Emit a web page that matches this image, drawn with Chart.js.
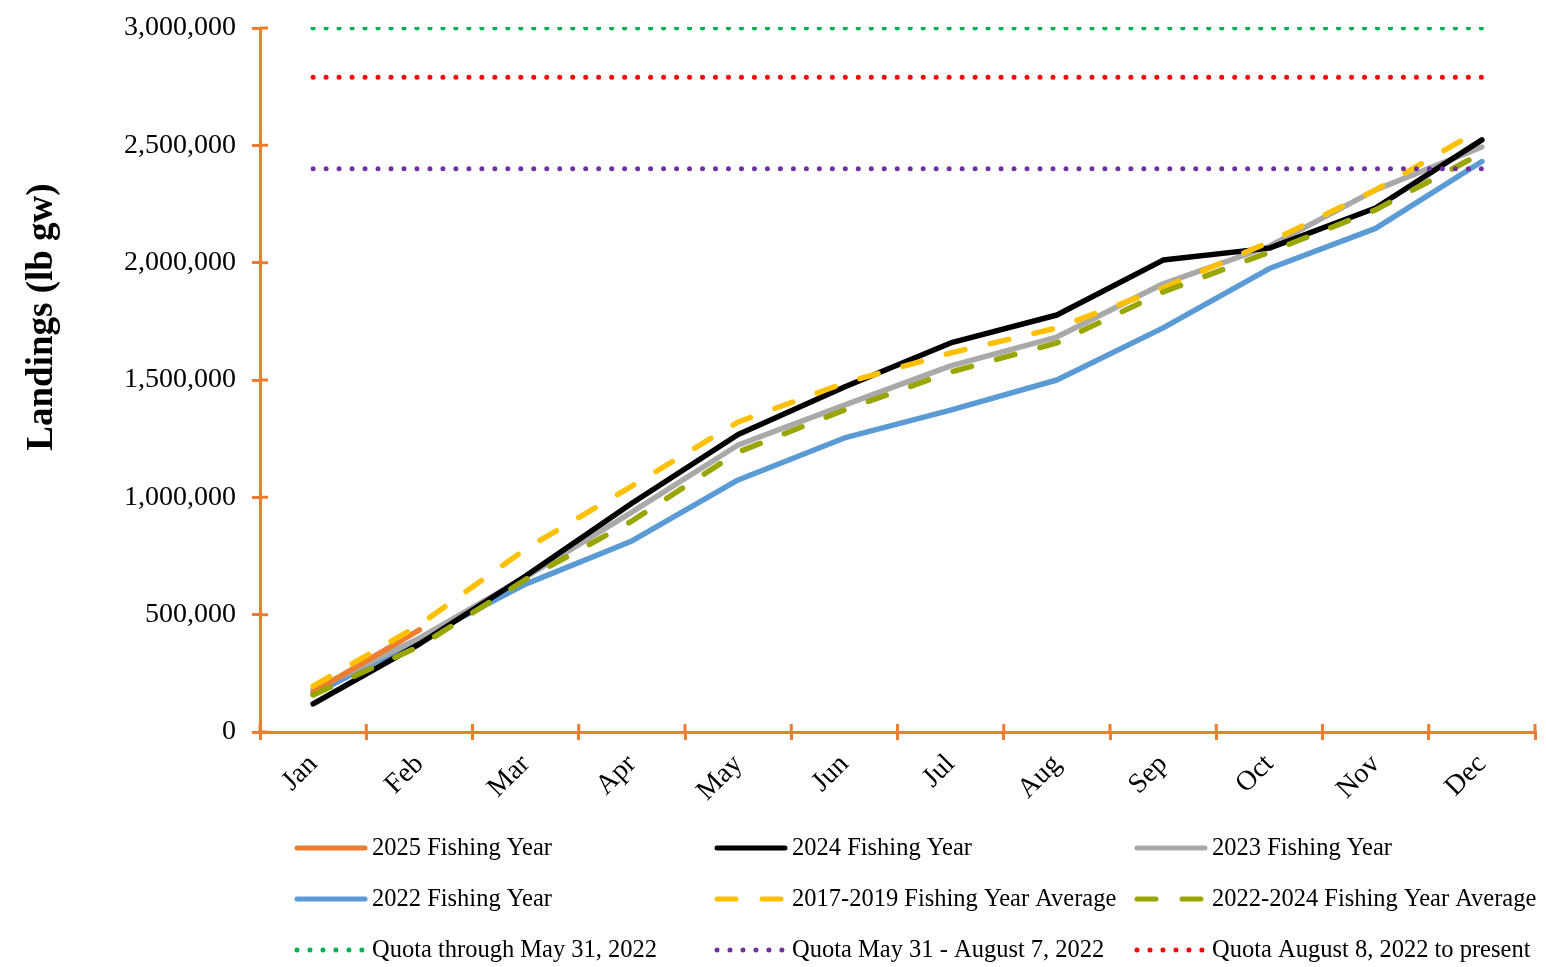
<!DOCTYPE html>
<html>
<head>
<meta charset="utf-8">
<title>Landings</title>
<script src="https://cdn.jsdelivr.net/npm/chart.js@4.4.1/dist/chart.umd.min.js"></script>
<style>
  html, body { margin: 0; padding: 0; background: #fff; }
</style>
</head>
<body>
<canvas id="landingsChart" width="1546" height="967"></canvas>
<script>
// month labels along the x axis
const months = ["Jan", "Feb", "Mar", "Apr", "May", "Jun", "Jul", "Aug", "Sep", "Oct", "Nov", "Dec"];

// cumulative landings (lb gw)
const fy2025 = [170000, 435000, null, null, null, null, null, null, null, null, null, null];
const fy2024 = [120000, 375000, 665000, 975000, 1268000, 1470000, 1658000, 1777000, 2011000, 2062000, 2233000, 2523000];
const fy2023 = [180000, 400000, 660000, 937000, 1223000, 1393000, 1560000, 1683000, 1910000, 2070000, 2310000, 2493000];
const fy2022 = [160000, 395000, 630000, 814000, 1074000, 1253000, 1372000, 1500000, 1722000, 1975000, 2146000, 2431000];
const avg1719 = [195000, 456000, 780000, 1048000, 1321000, 1487000, 1615000, 1722000, 1892000, 2088000, 2310000, 2570000];
const avg2224 = [158000, 365000, 650000, 899000, 1193000, 1372000, 1534000, 1658000, 1875000, 2045000, 2225000, 2467000];

// quota levels
const quotaThroughMay = 3000000;
const quotaMayAug = 2400000;
const quotaAugPresent = 2790000;

// y axis ticks
const yMin = 0, yMax = 3000000, yStep = 500000;

const axisOrange = "#ED7D31";
const serif = "'Liberation Serif', 'Times New Roman', serif";
const flat = v => months.map(() => v);

const solid = (label, data, color) => ({
  label, data, borderColor: color, backgroundColor: color,
  borderWidth: 5.5, pointRadius: 0, tension: 0, spanGaps: false, borderCapStyle: "round", borderJoinStyle: "round"
});
const dashed = (label, data, color) => Object.assign(solid(label, data, color), { borderDash: [19, 26] });
const dotted = (label, value, color) => Object.assign(solid(label, flat(value), color), { borderWidth: 5, borderDash: [0, 12.98] });

// array order = drawing order (first one ends up on top)
const datasets = [
  Object.assign(dotted("Quota through May 31, 2022", quotaThroughMay, "#00B050"), { clip: { left: 10, top: 1, right: 10, bottom: 10 } }),
  dotted("Quota May 31 - August 7, 2022", quotaMayAug, "#7030A0"),
  dotted("Quota August 8, 2022 to present", quotaAugPresent, "#FF0000"),
  dashed("2022-2024 Fishing Year Average", avg2224, "#99A500"),
  dashed("2017-2019 Fishing Year Average", avg1719, "#FFC000"),
  solid("2025 Fishing Year", fy2025, axisOrange),
  solid("2024 Fishing Year", fy2024, "#000000"),
  solid("2023 Fishing Year", fy2023, "#A9A9A9"),
  solid("2022 Fishing Year", fy2022, "#5B9BD5")
];

const legendOrder = [
  "2025 Fishing Year", "2024 Fishing Year", "2023 Fishing Year",
  "2022 Fishing Year", "2017-2019 Fishing Year Average", "2022-2024 Fishing Year Average",
  "Quota through May 31, 2022", "Quota May 31 - August 7, 2022", "Quota August 8, 2022 to present"
];

// extra bits Excel draws: ticks crossing the axes, y title, 3-column legend
const extras = {
  id: "extras",
  afterDraw(chart) {
    const ctx = chart.ctx, area = chart.chartArea;
    const y = chart.scales.y;
    ctx.save();
    ctx.strokeStyle = axisOrange;
    ctx.lineWidth = 3;
    ctx.beginPath();
    y.ticks.forEach((t, i) => {
      const py = y.getPixelForTick(i);
      ctx.moveTo(area.left, py); ctx.lineTo(area.left + 8, py);
    });
    const step = area.width / months.length;
    for (let i = 0; i <= months.length; i++) {
      const px = area.left + i * step;
      ctx.moveTo(px, area.bottom); ctx.lineTo(px, area.bottom - 8);
    }
    ctx.stroke();

    // y axis title
    ctx.fillStyle = "#000";
    ctx.font = "bold 37px " + serif;
    ctx.textAlign = "center";
    ctx.textBaseline = "middle";
    ctx.translate(42, 317);
    ctx.rotate(-Math.PI / 2);
    ctx.fillText("Landings (lb gw)", 0, 0);
    ctx.restore();

    // legend
    const cols = [297, 717, 1137], rows = [848, 899, 950];
    ctx.save();
    ctx.font = "24.5px " + serif;
    ctx.textBaseline = "middle";
    ctx.textAlign = "left";
    legendOrder.forEach((name, i) => {
      const ds = chart.data.datasets.find(d => d.label === name);
      const lx = cols[i % 3], ly = rows[Math.floor(i / 3)];
      ctx.strokeStyle = ds.borderColor;
      ctx.lineWidth = 5;
      ctx.lineCap = "round";
      ctx.setLineDash(ds.borderDash || []);
      ctx.beginPath();
      ctx.moveTo(lx, ly); ctx.lineTo(lx + 68, ly);
      ctx.stroke();
      ctx.setLineDash([]);
      ctx.fillStyle = "#000";
      ctx.fillText(name, lx + 75, ly + 1);
    });
    ctx.restore();
  }
};

new Chart(document.getElementById("landingsChart"), {
  type: "line",
  data: { labels: months, datasets: datasets },
  options: {
    responsive: false,
    animation: false,
    devicePixelRatio: 1,
    layout: { padding: { top: 28, right: 11, left: 0, bottom: 0 } },
    plugins: { legend: { display: false }, tooltip: { enabled: false } },
    scales: {
      x: {
        offset: true,
        afterFit: s => { s.height = 235; },
        grid: { drawOnChartArea: false, offset: true, color: axisOrange, lineWidth: 3, tickLength: 8 },
        border: { color: axisOrange, width: 3 },
        ticks: {
          color: "#000", font: { family: serif, size: 28 },
          minRotation: 45, maxRotation: 45, autoSkip: false, padding: 8
        }
      },
      y: {
        min: yMin, max: yMax,
        afterFit: s => { s.width = 260; s.paddingTop = 0; s.paddingBottom = 0; },
        grid: { drawOnChartArea: false, color: axisOrange, lineWidth: 3, tickLength: 8 },
        border: { color: axisOrange, width: 3 },
        ticks: {
          stepSize: yStep, color: "#000", padding: 16,
          font: { family: serif, size: 28 },
          callback: v => v.toLocaleString("en-US")
        }
      }
    }
  },
  plugins: [extras]
});
</script>
</body>
</html>
